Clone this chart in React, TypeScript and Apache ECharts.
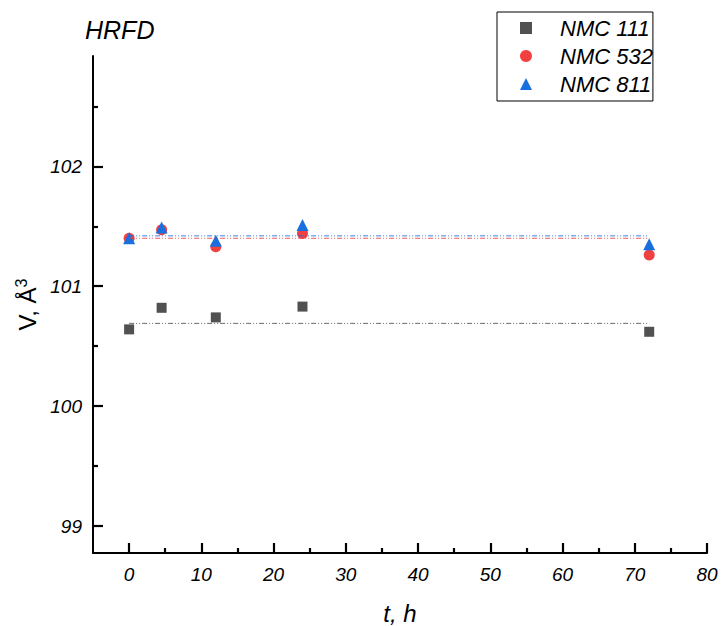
import React, { useEffect, useRef } from "react";
import * as echarts from "echarts";

const times = [0, 4.5, 12, 24, 72];
const nmc111 = [100.64, 100.82, 100.74, 100.83, 100.62];
const nmc532 = [101.4, 101.47, 101.33, 101.44, 101.26];
const nmc811 = [101.4, 101.49, 101.38, 101.51, 101.35];
const fitRange = [0, 72];
const fitLevels = [100.69, 101.4, 101.42];
const seriesNames = ["NMC 111", "NMC 532", "NMC 811"];
const xMajorTicks = [0, 10, 20, 30, 40, 50, 60, 70, 80];
const xMinorTicks = [5, 15, 25, 35, 45, 55, 65, 75];
const yMajorTicks = [99, 100, 101, 102];
const yMinorTicks = [99.5, 100.5, 101.5, 102.5];

const colors = ["#515151", "#F14040", "#1A6FDF"];
const symbols = ["rect", "circle", "triangle"];
const symbolSizes = [10, 11, 12];
const FONT = "'Liberation Sans', Arial, sans-serif";

export default function App() {
  const ref = useRef<HTMLDivElement>(null);
  useEffect(() => {
    if (!ref.current) return;
    const chart = echarts.init(ref.current, null, { renderer: "svg" });
    const values = [nmc111, nmc532, nmc811];
    const L = 93, R = 15, T = 56, B = 73;
    const xMin = -5, xMax = 80, yMin = 98.775, yMax = 102.92;
    const axisColor = "#000";
    const labelStyle = { color: "#000", fontSize: 19, fontStyle: "italic" as const, fontFamily: FONT };
    const tickLine = { color: axisColor, width: 2.2 };

    const scatterSeries = seriesNames.map((name, i) => ({
      name,
      type: "scatter",
      xAxisIndex: 0,
      yAxisIndex: 0,
      symbol: symbols[i],
      symbolSize: symbolSizes[i],
      itemStyle: { color: colors[i], opacity: 1 },
      z: 3 + i,
      data: times.map((t, j) => [t, values[i][j]]),
    }));
    const fitSeries = fitLevels.map((lv, i) => ({
      name: seriesNames[i] + " fit",
      type: "line",
      xAxisIndex: 0,
      yAxisIndex: 0,
      symbol: "none",
      silent: true,
      z: 6,
      lineStyle: { color: colors[i], width: 1, type: [5, 2, 1, 2, 1, 2], opacity: 0.85 },
      data: fitRange.map((x) => [x, lv]),
    }));

    const hiddenLine = { show: true, onZero: false, lineStyle: { color: axisColor, width: 1.5, opacity: 0 } };

    chart.setOption({
      animation: false,
      textStyle: { fontFamily: FONT },
      title: {
        text: "HRFD",
        left: 80,
        top: 12,
        textStyle: { fontSize: 25, fontStyle: "italic", fontWeight: "normal", color: "#000", fontFamily: FONT },
      },
      legend: {
        data: seriesNames,
        orient: "vertical",
        left: 497,
        top: 12,
        padding: [5, 0, 6, 23],
        itemGap: 6,
        itemWidth: 12,
        itemHeight: 12,
        borderColor: "#000",
        borderWidth: 1,
        selectedMode: false,
        textStyle: {
          fontSize: 22,
          fontStyle: "italic",
          color: "#000",
          fontFamily: FONT,
          padding: [0, 0, 0, 23],
          width: 88,
          overflow: "none",
        },
      },
      grid: [
        { left: L, right: R, top: T, bottom: B, outerBoundsMode: "none", containLabel: false },
        { left: L, right: R, top: T, bottom: B, outerBoundsMode: "none", containLabel: false },
      ],
      xAxis: [
        {
          type: "value",
          gridIndex: 0,
          min: xMin,
          max: xMax,
          name: "t, h",
          nameLocation: "middle",
          nameGap: 48,
          nameTextStyle: { fontSize: 24, fontStyle: "italic", color: "#000", fontFamily: FONT },
          axisLine: { show: true, onZero: false, lineStyle: { color: axisColor, width: 2 } },
          axisTick: { show: true, inside: true, length: 10, customValues: xMajorTicks, lineStyle: tickLine },
          axisLabel: { ...labelStyle, customValues: xMajorTicks, margin: 12 },
          splitLine: { show: false },
        },
        {
          type: "value",
          gridIndex: 1,
          min: xMin,
          max: xMax,
          axisLine: hiddenLine,
          axisTick: { show: true, inside: true, length: 5, customValues: xMinorTicks, lineStyle: tickLine },
          axisLabel: { show: false },
          splitLine: { show: false },
        },
      ],
      yAxis: [
        {
          type: "value",
          gridIndex: 0,
          min: yMin,
          max: yMax,
          name: "V, Å{sup|3}",
          nameLocation: "middle",
          nameRotate: 90,
          nameGap: 42,
          nameTextStyle: {
            fontSize: 24,
            color: "#000",
            fontFamily: FONT,
            rich: { sup: { fontSize: 16, color: "#000", fontFamily: FONT, padding: [0, 0, 11, 0] } },
          },
          axisLine: { show: true, onZero: false, lineStyle: { color: axisColor, width: 2 } },
          axisTick: { show: true, inside: true, length: 10, customValues: yMajorTicks, lineStyle: tickLine },
          axisLabel: { ...labelStyle, customValues: yMajorTicks, margin: 11 },
          splitLine: { show: false },
        },
        {
          type: "value",
          gridIndex: 1,
          min: yMin,
          max: yMax,
          axisLine: hiddenLine,
          axisTick: { show: true, inside: true, length: 5, customValues: yMinorTicks, lineStyle: tickLine },
          axisLabel: { show: false },
          splitLine: { show: false },
        },
      ],
      series: [...scatterSeries, ...fitSeries],
    });
    return () => chart.dispose();
  }, []);
  return (
    <div
      ref={ref}
      style={{ position: "fixed", left: 0, top: 0, width: 722, height: 626, background: "#fff" }}
    />
  );
}
